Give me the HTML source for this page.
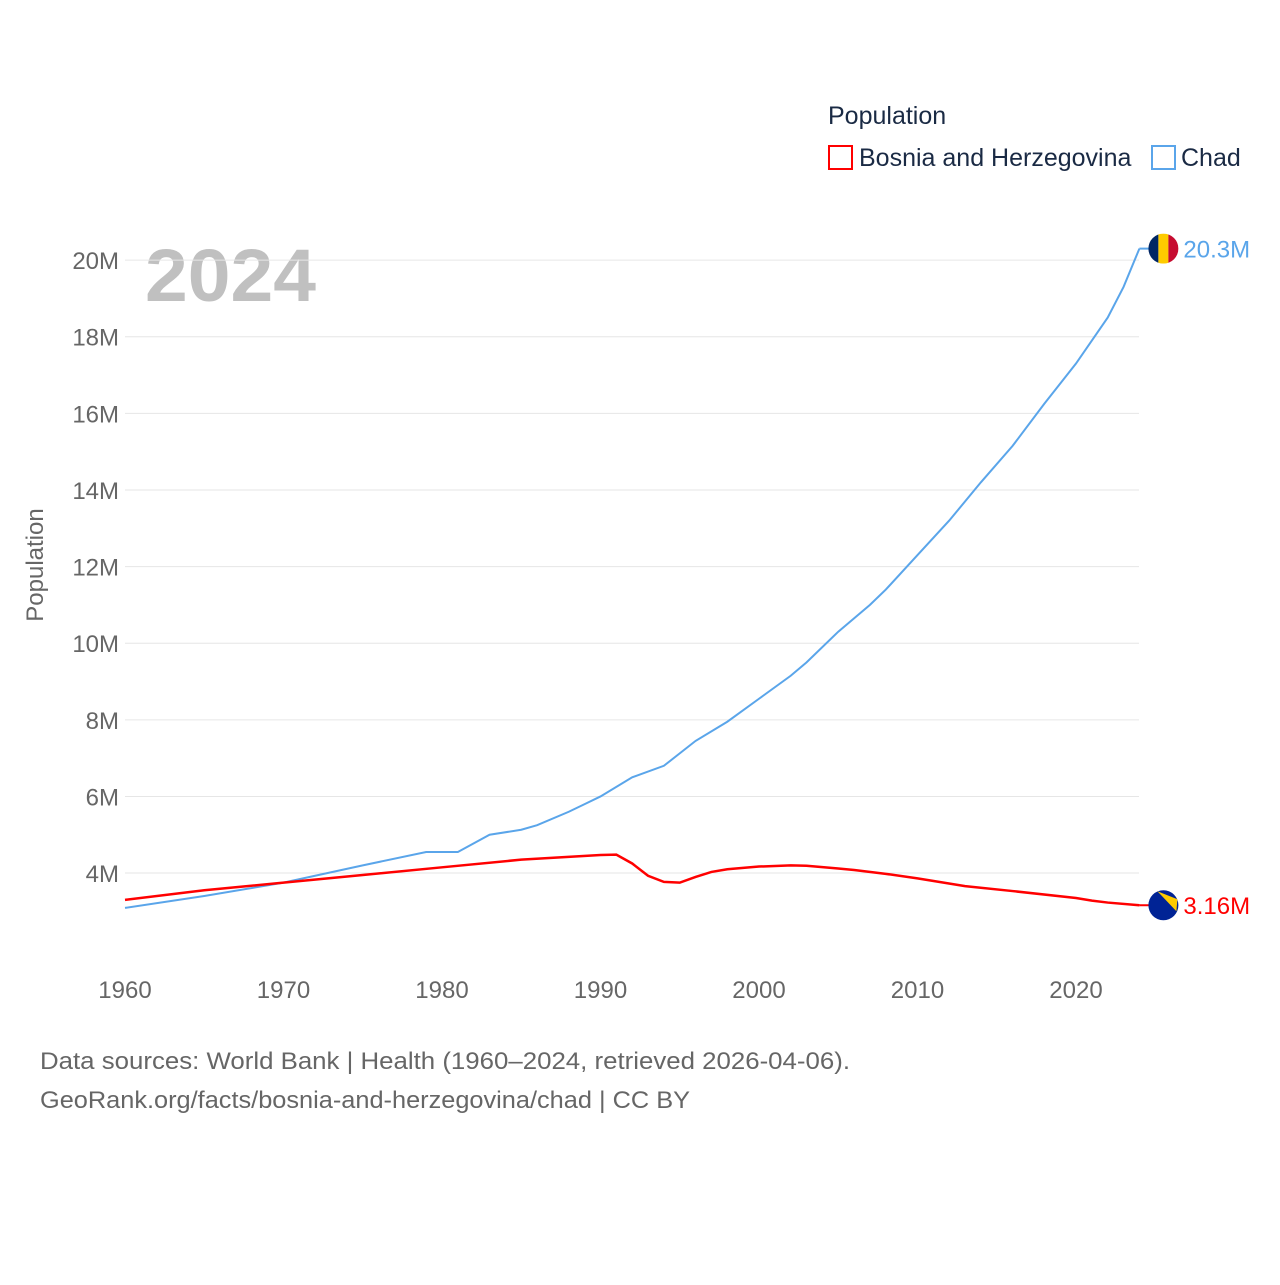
<!DOCTYPE html>
<html><head><meta charset="utf-8"><style>
body{margin:0;background:#fff;font-family:"Liberation Sans",sans-serif}
</style></head><body>
<svg id="chart" width="1280" height="1280" xmlns="http://www.w3.org/2000/svg" style="font-family:'Liberation Sans',sans-serif">
<text x="828" y="124" font-size="25" fill="#1a2a44">Population</text>
<rect x="829" y="146" width="23" height="23" fill="none" stroke="#ff0000" stroke-width="2"/>
<text x="859" y="166" font-size="25" fill="#1a2a44">Bosnia and Herzegovina</text>
<rect x="1152" y="146" width="23" height="23" fill="none" stroke="#5aa5ea" stroke-width="2"/>
<text x="1181" y="166" font-size="25" fill="#1a2a44">Chad</text>
<text x="145" y="301" font-size="74" font-weight="bold" fill="#c0c0c0" textLength="171" lengthAdjust="spacingAndGlyphs">2024</text>
<text x="56" y="578" font-size="24" fill="#666" transform="rotate(-90 43 578)" text-anchor="middle">Population</text>
<g id="grid"></g><g id="lines"></g>
<text x="40" y="1069" font-size="24" fill="#666" textLength="810" lengthAdjust="spacingAndGlyphs">Data sources: World Bank | Health (1960–2024, retrieved 2026-04-06).</text>
<text x="40" y="1108" font-size="24" fill="#666" textLength="650" lengthAdjust="spacingAndGlyphs">GeoRank.org/facts/bosnia-and-herzegovina/chad | CC BY</text>
</svg>
<script>
const yTicks=[4,6,8,10,12,14,16,18,20];
const xTicks=[1960,1970,1980,1990,2000,2010,2020];
const chadYears=[1960,1965,1970,1975,1979,1981,1983,1985,1986,1988,1989,1990,1992,1994,1996,1998,2000,2002,2003,2005,2007,2008,2010,2012,2014,2016,2018,2020,2022,2023,2024];
const chadVals=[3.09,3.4,3.75,4.2,4.55,4.55,5.0,5.13,5.25,5.6,5.8,6.0,6.5,6.8,7.45,7.95,8.55,9.15,9.5,10.3,11.0,11.4,12.3,13.2,14.2,15.15,16.25,17.3,18.5,19.3,20.3];
const bihYears=[1960,1965,1970,1975,1980,1985,1990,1991,1992,1993,1994,1995,1996,1997,1998,2000,2002,2003,2005,2006,2008,2010,2013,2016,2020,2021,2022,2024];
const bihVals=[3.30,3.55,3.75,3.95,4.15,4.35,4.47,4.48,4.25,3.93,3.77,3.75,3.9,4.03,4.1,4.17,4.2,4.19,4.12,4.08,3.98,3.86,3.66,3.53,3.35,3.28,3.23,3.16];
const NS="http://www.w3.org/2000/svg";
const x=yr=>125+(yr-1960)*15.85;
const y=v=>1026.3-v*38.31;
const grid=document.getElementById('grid'),lines=document.getElementById('lines');
function mk(t,a,p){const e=document.createElementNS(NS,t);for(const k in a)e.setAttribute(k,a[k]);p.appendChild(e);return e;}
yTicks.forEach(v=>{
 const l=mk('line',{x1:125,x2:1139,y1:y(v),y2:y(v),stroke:'#e6e6e6','stroke-width':1},grid);
 
 
 const t=mk('text',{x:119,y:y(v)+9,'font-size':24,fill:'#666','text-anchor':'end'},grid);t.textContent=v+'M';
 
 
});
xTicks.forEach(v=>{
 const t=mk('text',{x:x(v),y:998,'font-size':24,fill:'#666','text-anchor':'middle'},grid);t.textContent=v;
 
 
});
function series(ys,vs,c,name){
 const p=mk('polyline',{points:ys.map((yr,i)=>x(yr)+','+y(vs[i])).join(' '),fill:'none',stroke:c,'stroke-width':name==='bosnia'?2.5:2},lines);
 
 
 const lx=x(ys[ys.length-1]),ly=y(vs[vs.length-1]);
 mk('line',{x1:lx,x2:lx+10,y1:ly,y2:ly,stroke:c,'stroke-width':2},lines);
 const cx=lx+24;
 const g=mk('g',{},lines);
 
 
 if(name==='chad'){
  mk('clipPath',{id:'cc'},g).appendChild(document.createElementNS(NS,'circle')).setAttribute('r',15);
  g.lastChild.firstChild.setAttribute('cx',cx);g.lastChild.firstChild.setAttribute('cy',ly);
  const cols=['#002664','#fecb00','#c60c30'];
  cols.forEach((cl,i)=>mk('rect',{x:cx-15+i*10,y:ly-15,width:10,height:30,fill:cl,'clip-path':'url(#cc)'},g));
 } else {
  mk('circle',{cx:cx,cy:ly,r:15,fill:'#002395'},g);
  mk('path',{d:`M${cx-6} ${ly-14} L${cx+14} ${ly-6} L${cx+13} ${ly+6} Z`,fill:'#fecb00'},g);
 }
 const t=mk('text',{x:cx+20,y:ly+9,'font-size':24,fill:c},lines);
 t.textContent=(vs[vs.length-1])+'M';
 
 
}
series(chadYears,chadVals,'#5aa5ea','chad');
series(bihYears,bihVals,'#ff0000','bosnia');
</script>
</body></html>
